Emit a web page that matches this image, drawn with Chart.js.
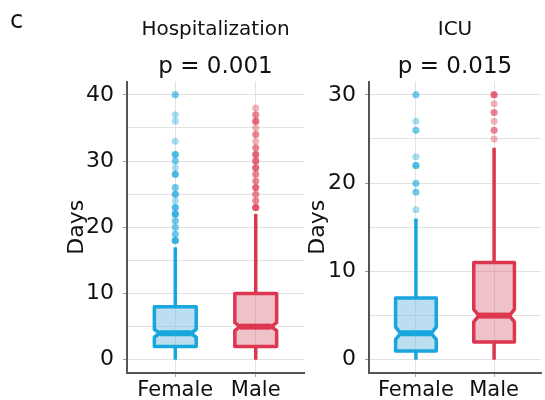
<!DOCTYPE html>
<html>
<head>
<meta charset="utf-8">
<script src="https://cdn.jsdelivr.net/npm/chart.js@4.4.1/dist/chart.umd.min.js"></script>
<style>
  body { margin: 0; background: #fff; }
  #wrap { position: relative; width: 545px; height: 400px; overflow: hidden; }
  #panel-label { position: absolute; left: 10px; top: 8px; font: 24px/24px "DejaVu Sans", sans-serif; color: #111; }
  #hosp { position: absolute; left: 0; top: 0; }
  #icu { position: absolute; left: 290px; top: 0; }
</style>
</head>
<body>
<div id="wrap">
  <canvas id="hosp" width="310" height="400"></canvas>
  <canvas id="icu" width="255" height="400"></canvas>
  <div id="panel-label">c</div>
</div>
<script>
const categories = ['Female', 'Male'];

// Hospitalization (days)
const hospLow = [0, 0];
const hospQ1 = [2, 2];
const hospMedian = [4, 5];
const hospQ3 = [8, 10];
const hospHigh = [17, 22];
const hospNotchLow = [3.4, 4.4];
const hospNotchHigh = [4.6, 5.6];
// repeated values = overlapping points
const hospFemaleOutliers = [40, 40, 37, 36, 33, 31, 31, 31, 30, 30, 29, 28, 28, 28, 26, 26, 25, 25, 25, 24,
  23, 23, 23, 22, 22, 22, 22, 21, 21, 20, 20, 19, 19, 18, 18, 18, 18];
const hospMaleOutliers = [38, 37, 37, 36, 36, 36, 35, 34, 34, 33, 32, 32, 31, 31, 31, 30, 30, 30, 29, 29, 29,
  28, 28, 27, 27, 26, 26, 26, 25, 25, 24, 24, 23, 23, 23, 23];

// ICU (days)
const icuLow = [0, 0];
const icuQ1 = [1, 2];
const icuMedian = [3, 5];
const icuQ3 = [7, 11];
const icuHigh = [16, 24];
const icuNotchLow = [2.3, 4.3];
const icuNotchHigh = [3.7, 5.7];
const icuFemaleOutliers = [30, 30, 27, 26, 26, 23, 22, 22, 22, 20, 20, 19, 19, 17];
const icuMaleOutliers = [30, 30, 30, 29, 28, 28, 27, 26, 26, 25];

const FONT = '"DejaVu Sans", sans-serif';
const lineColors = ['#17a6dd', '#dc3650'];
const fillColors = ['rgba(120,190,225,0.5)', 'rgba(215,110,125,0.42)'];
const dotColors = ['rgba(23,166,221,0.38)', 'rgba(220,54,80,0.38)'];
const BOX_HALF = 0.26;
const NOTCH_INDENT = 0.065;

function makeBoxPlugin(s) {
  return {
    id: 'notchBox',
    beforeDatasetsDraw(chart) {
      const { ctx, scales: { x, y } } = chart;
      const py = v => y.getPixelForValue(v);
      categories.forEach((c, i) => {
        const cx = x.getPixelForValue(i);
        const left = x.getPixelForValue(i - BOX_HALF);
        const right = x.getPixelForValue(i + BOX_HALF);
        const ind = x.getPixelForValue(i + NOTCH_INDENT) - cx;
        ctx.save();
        ctx.strokeStyle = lineColors[i];
        ctx.lineWidth = 3.5;
        ctx.beginPath();
        ctx.moveTo(cx, py(s.low[i])); ctx.lineTo(cx, py(s.q1[i]));
        ctx.moveTo(cx, py(s.q3[i])); ctx.lineTo(cx, py(s.high[i]));
        ctx.stroke();

        ctx.beginPath();
        ctx.moveTo(left, py(s.q3[i]));
        ctx.lineTo(right, py(s.q3[i]));
        ctx.lineTo(right, py(s.notchHigh[i]));
        ctx.lineTo(right - ind, py(s.median[i]));
        ctx.lineTo(right, py(s.notchLow[i]));
        ctx.lineTo(right, py(s.q1[i]));
        ctx.lineTo(left, py(s.q1[i]));
        ctx.lineTo(left, py(s.notchLow[i]));
        ctx.lineTo(left + ind, py(s.median[i]));
        ctx.lineTo(left, py(s.notchHigh[i]));
        ctx.closePath();
        ctx.fillStyle = fillColors[i];
        ctx.fill();
        ctx.lineJoin = 'round';
        ctx.stroke();

        ctx.lineWidth = 6;
        ctx.beginPath();
        ctx.moveTo(left + ind, py(s.median[i]));
        ctx.lineTo(right - ind, py(s.median[i]));
        ctx.stroke();
        ctx.restore();
      });
    }
  };
}

function makeChart(id, title, pText, stats, outliers, yMin, yMax, padLeft, yWidth, padRight) {
  const datasets = outliers.map((vals, i) => ({
    data: vals.map(v => ({ x: i, y: v })),
    backgroundColor: dotColors[i],
    borderWidth: 0,
    pointRadius: 3.5
  }));
  return new Chart(document.getElementById(id), {
    type: 'scatter',
    data: { datasets },
    plugins: [makeBoxPlugin(stats)],
    options: {
      responsive: false,
      animation: false,
      devicePixelRatio: 1,
      layout: { padding: { left: padLeft, right: padRight, top: 0, bottom: 0 } },
      plugins: {
        legend: { display: false },
        tooltip: { enabled: false },
        title: {
          display: true, text: title, fullSize: false, color: '#111',
          font: { family: FONT, size: 20, weight: 'normal' },
          padding: { top: 18, bottom: 0 }
        },
        subtitle: {
          display: true, text: pText, fullSize: false, color: '#111',
          font: { family: FONT, size: 23, weight: 'normal' },
          padding: { top: 11, bottom: 1 }
        }
      },
      scales: {
        x: {
          type: 'linear', min: -0.6, max: 1.6,
          afterBuildTicks: (scale) => { scale.ticks = categories.map((c, i) => ({ value: i })); },
          afterFit: (scale) => { scale.height = 27; },
          ticks: {
            color: '#111', padding: 1, font: { family: FONT, size: 21 },
            callback: (v) => categories[v]
          },
          grid: { color: '#e2e2e2', tickColor: '#aaa', tickLength: 4 },
          border: { color: '#555', width: 2 }
        },
        y: {
          min: yMin, max: yMax,
          afterFit: (scale) => { scale.width = yWidth; },
          title: {
            display: true, text: 'Days', color: '#111', padding: 0,
            font: { family: FONT, size: 22 }
          },
          ticks: {
            stepSize: 5, includeBounds: false, color: '#111', padding: 9,
            font: { family: FONT, size: 22 },
            callback: (v) => (v % 10 === 0 ? v : '')
          },
          grid: {
            color: '#e2e2e2', tickLength: 4,
            tickColor: (ctx) => (ctx.tick && ctx.tick.value % 10 === 0 ? '#999' : 'rgba(0,0,0,0)')
          },
          border: { color: '#555', width: 2 }
        }
      }
    }
  });
}

makeChart('hosp', 'Hospitalization', 'p = 0.001',
  { low: hospLow, q1: hospQ1, median: hospMedian, q3: hospQ3, high: hospHigh, notchLow: hospNotchLow, notchHigh: hospNotchHigh },
  [hospFemaleOutliers, hospMaleOutliers], -2, 42, 64, 63, 6);

makeChart('icu', 'ICU', 'p = 0.015',
  { low: icuLow, q1: icuQ1, median: icuMedian, q3: icuQ3, high: icuHigh, notchLow: icuNotchLow, notchHigh: icuNotchHigh },
  [icuFemaleOutliers, icuMaleOutliers], -1.5, 31.5, 15, 64, 0);
</script>
</body>
</html>
